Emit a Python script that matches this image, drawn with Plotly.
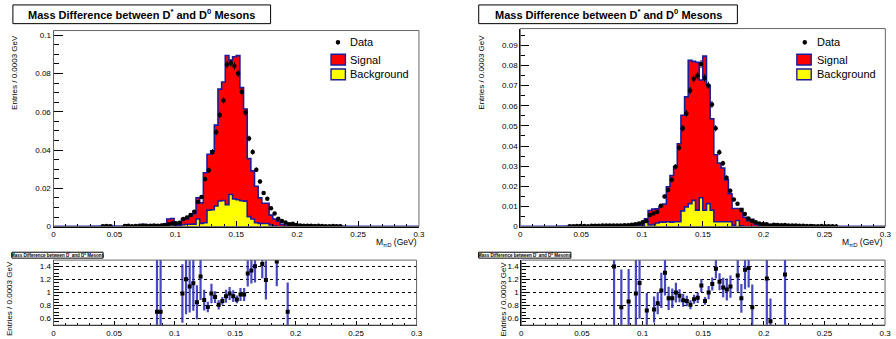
import numpy as np
import plotly.graph_objects as go

# ---------------------------------------------------------------- binning
N_BINS = 100
X_MIN, X_MAX = 0.0, 0.3
edges = np.linspace(X_MIN, X_MAX, N_BINS + 1)
centers = 0.5 * (edges[:-1] + edges[1:])

x_tick_vals = [0, 0.05, 0.1, 0.15, 0.2, 0.25, 0.3]
x_tick_text = ["0", "0.05", "0.1", "0.15", "0.2", "0.25", "0.3"]

# ---------------------------------------------------------------- sample 1 (left)
data_1 = [0] * 10 + [
    0, 0, 0, 0.0002, 0.0003, 0.0002, 0, 0, 0, 0.0003,
    0.0004, 0.0002, 0.0003, 0.0004, 0.0004, 0.0005, 0.0005, 0.0006, 0.0005, 0.0006,
    0.0008, 0.0012, 0.0017, 0.0017, 0.0020, 0.0040, 0.0048, 0.0060, 0.0077, 0.0129,
    0.0155, 0.0249, 0.0294, 0.0390, 0.0493, 0.0583, 0.0658, 0.0846, 0.0855, 0.0839,
    0.0800, 0.0704, 0.0596, 0.0460, 0.0390, 0.0297, 0.0235, 0.0175, 0.0146, 0.0096,
    0.0068, 0.0041, 0.0029, 0.0021, 0.0012, 0.0015, 0.0008, 0.0006, 0.0005, 0.0004,
    0.0004, 0.0003, 0.0004, 0.0003, 0.0002, 0.0002, 0.0003, 0.0002, 0.0002, 0,
] + [0] * 20
data_err_1 = [0] * 10 + [
    0, 0, 0, 0.0002, 0.0002, 0.0002, 0, 0, 0, 0.0002,
    0.0002, 0.0002, 0.0002, 0.0002, 0.0002, 0.0003, 0.0003, 0.0003, 0.0003, 0.0003,
    0.0003, 0.0004, 0.0004, 0.0004, 0.0004, 0.0006, 0.0006, 0.0007, 0.0008, 0.0010,
    0.0010, 0.0013, 0.0014, 0.0015, 0.0016, 0.0017, 0.0018, 0.0020, 0.0020, 0.0020,
    0.0019, 0.0018, 0.0017, 0.0015, 0.0014, 0.0012, 0.0011, 0.0009, 0.0008, 0.0007,
    0.0006, 0.0005, 0.0004, 0.0004, 0.0003, 0.0003, 0.0003, 0.0002, 0.0002, 0.0002,
    0.0002, 0.0002, 0.0002, 0.0002, 0.0002, 0.0002, 0.0002, 0.0002, 0.0002, 0,
] + [0] * 20
signal_1 = [0] * 10 + [
    0.0002, 0.0002, 0.0002, 0.0003, 0.0006, 0.0006, 0.0002, 0.0002, 0.0002, 0.0003,
    0.0003, 0.0003, 0.0004, 0.0004, 0.0012, 0.0004, 0.0005, 0.0005, 0.0007, 0.0008,
    0.0015, 0.0040, 0.0042, 0.0015, 0.0015, 0.0041, 0.0040, 0.0055, 0.0067, 0.0151,
    0.0124, 0.0281, 0.0378, 0.0396, 0.0530, 0.0718, 0.0755, 0.0894, 0.0868, 0.0887,
    0.0893, 0.0726, 0.0614, 0.0355, 0.0291, 0.0211, 0.0150, 0.0122, 0.0122, 0.0060,
    0.0040, 0.0028, 0.0012, 0.0008, 0.0017, 0.0012, 0.0004, 0.0003, 0.0008, 0.0003,
    0.0003, 0.0002, 0.0005, 0.0002, 0.0002, 0.0002, 0.0002, 0.0006, 0.0002, 0.0001,
] + [0] * 20
background_1 = [0] * 20 + [
    0, 0, 0, 0, 0, 0, 0, 0, 0, 0.0003,
    0.0010, 0.0012, 0.0008, 0.0004, 0.0005, 0.0010, 0.0012, 0.0012, 0.0013, 0.0040,
    0.0017, 0.0020, 0.0086, 0.0088, 0.0108, 0.0134, 0.0136, 0.0115, 0.0168, 0.0145,
    0.0140, 0.0135, 0.0133, 0.0052, 0.0040, 0.0020, 0.0017, 0.0016, 0.0016, 0.0008,
    0.0003, 0, 0, 0, 0, 0, 0, 0, 0, 0,
] + [0] * 30

ratio_bins_1 = [28, 29, 35, 36, 37, 38, 39, 40, 41, 42, 43, 44, 45, 46, 47, 48,
                49, 50, 51, 52, 53, 54, 55, 57, 58, 61, 64]
ratio_1 = [0.704, 0.704, 0.985, 1.207, 1.094, 1.143, 0.852, 1.247, 0.886, 0.778,
           0.985, 0.931, 0.812, 0.872, 0.946, 0.985, 0.946, 0.896, 0.970, 0.970,
           1.296, 1.341, 1.405, 1.440, 1.193, 1.479, 0.704]
ratio_err_1 = [0.80, 0.80, 0.45, 0.54, 0.40, 0.42, 0.26, 0.36, 0.16, 0.08,
               0.15, 0.09, 0.07, 0.06, 0.10, 0.10, 0.09, 0.06, 0.10, 0.10,
               0.20, 0.20, 0.25, 0.22, 0.30, 0.38, 0.45]

# ---------------------------------------------------------------- sample 2 (right)
data_2 = [0] * 10 + [
    0, 0, 0, 0.0002, 0.0002, 0.0003, 0.0003, 0.0003, 0.0002, 0.0004,
    0.0004, 0.0004, 0.0005, 0.0005, 0.0005, 0.0005, 0.0006, 0.0005, 0.0007, 0.0007,
    0.0009, 0.0012, 0.0015, 0.0021, 0.0028, 0.0057, 0.0065, 0.0073, 0.0103, 0.0150,
    0.0182, 0.0232, 0.0297, 0.0391, 0.0488, 0.0562, 0.0676, 0.0734, 0.0749, 0.0807,
    0.0738, 0.0701, 0.0606, 0.0488, 0.0369, 0.0314, 0.0243, 0.0178, 0.0134, 0.0114,
    0.0082, 0.0062, 0.0040, 0.0028, 0.0021, 0.0016, 0.0013, 0.0012, 0.0005, 0.0009,
    0.0008, 0.0007, 0.0008, 0.0006, 0.0005, 0.0006, 0.0004, 0.0004, 0.0003, 0.0003,
    0.0002, 0.0002, 0.0003, 0.0002, 0.0002, 0.0002, 0.0001, 0, 0, 0,
] + [0] * 10
data_err_2 = [0] * 10 + [
    0, 0, 0, 0.0002, 0.0002, 0.0002, 0.0002, 0.0002, 0.0002, 0.0002,
    0.0002, 0.0002, 0.0003, 0.0003, 0.0003, 0.0003, 0.0003, 0.0003, 0.0003, 0.0003,
    0.0004, 0.0004, 0.0004, 0.0005, 0.0005, 0.0007, 0.0007, 0.0008, 0.0009, 0.0010,
    0.0011, 0.0012, 0.0013, 0.0015, 0.0016, 0.0017, 0.0018, 0.0019, 0.0019, 0.0020,
    0.0019, 0.0018, 0.0017, 0.0015, 0.0014, 0.0013, 0.0011, 0.0010, 0.0009, 0.0008,
    0.0007, 0.0006, 0.0005, 0.0004, 0.0004, 0.0003, 0.0003, 0.0003, 0.0002, 0.0002,
    0.0002, 0.0002, 0.0002, 0.0002, 0.0002, 0.0002, 0.0002, 0.0002, 0.0002, 0.0002,
    0.0002, 0.0002, 0.0002, 0.0002, 0.0002, 0.0002, 0.0001, 0, 0, 0,
] + [0] * 10
signal_2 = [0] * 10 + [
    0.0001, 0.0001, 0.0002, 0.0002, 0.0005, 0.0005, 0.0002, 0.0002, 0.0003, 0.0003,
    0.0003, 0.0003, 0.0004, 0.0004, 0.0008, 0.0004, 0.0004, 0.0006, 0.0006, 0.0008,
    0.0010, 0.0012, 0.0013, 0.0016, 0.0039, 0.0080, 0.0087, 0.0088, 0.0100, 0.0112,
    0.0198, 0.0254, 0.0297, 0.0411, 0.0553, 0.0644, 0.0825, 0.0820, 0.0815, 0.0728,
    0.0846, 0.0701, 0.0535, 0.0357, 0.0316, 0.0291, 0.0232, 0.0163, 0.0090, 0.0090,
    0.0090, 0.0046, 0.0029, 0.0036, 0.0012, 0.0008, 0.0006, 0.0010, 0.0009, 0.0012,
    0.0003, 0.0003, 0.0006, 0.0002, 0.0002, 0.0002, 0.0002, 0.0002, 0.0002, 0.0001,
] + [0] * 20
background_2 = [0] * 30 + [
    0.0003, 0.0004, 0.0005, 0.0006, 0.0028, 0.0008, 0.0010, 0.0018, 0.0022, 0.0022,
    0.0024, 0.0022, 0.0024, 0.0024, 0.0078, 0.0098, 0.0114, 0.0130, 0.0082, 0.0143,
    0.0082, 0.0114, 0.0082, 0.0024, 0.0024, 0.0024, 0.0024, 0.0024, 0.0006, 0.0030,
    0.0004, 0, 0, 0, 0, 0, 0, 0, 0, 0,
] + [0] * 30

ratio_bins_2 = [25, 27, 29, 31, 32, 34, 36, 37, 38, 39, 40, 41, 42, 43, 44, 45, 46, 47,
                48, 49, 50, 51, 52, 53, 54, 55, 56, 57, 59, 60, 61, 62, 63, 67, 68, 72]
ratio_2 = [1.402, 0.774, 0.863, 0.985, 1.147, 0.725, 0.740, 0.838, 1.034, 1.304,
           0.912, 0.912, 1.000, 0.951, 0.882, 0.872, 0.813, 0.897, 0.921, 1.108,
           0.872, 1.000, 1.133, 1.368, 1.167, 1.079, 1.049, 1.093, 1.265, 0.912,
           1.353, 1.378, 0.774, 1.216, 0.558, 1.280]
ratio_err_2 = [0.90, 0.58, 0.50, 0.60, 0.55, 0.27, 0.20, 0.17, 0.27, 0.35,
               0.18, 0.15, 0.15, 0.10, 0.10, 0.08, 0.07, 0.07, 0.08, 0.10,
               0.06, 0.10, 0.10, 0.15, 0.13, 0.15, 0.17, 0.17, 0.25, 0.22,
               0.30, 0.30, 0.35, 0.90, 0.35, 0.90]

# ---------------------------------------------------------------- style
TITLE = "Mass Difference between D<sup>*</sup> and D<sup>0</sup> Mesons"
Y_TITLE = "Entries / 0.0003 GeV"
X_TITLE = "M<sub>πD</sub> (GeV)"
FONT = "Liberation Sans, Arial, Helvetica, sans-serif"
OUTLINE = "#1c1c9a"
RED = "#ff0000"
YELLOW = "#ffff00"
ERR_BLUE = "rgba(40,40,185,0.85)"

W, H = 896, 339


def px(x):
    return x / W


def py(y):
    return 1 - y / H


def step_trace(vals, fill, xa, ya):
    y = list(vals) + [vals[-1]]
    return go.Scatter(x=edges, y=y, mode="lines",
                      line=dict(shape="hv", color=OUTLINE, width=1.6),
                      fill="tozeroy", fillcolor=fill,
                      xaxis=xa, yaxis=ya, showlegend=False, hoverinfo="skip")


def data_trace(vals, errs, xa, ya):
    v = np.asarray(vals, dtype=float)
    e = np.asarray(errs, dtype=float)
    keep = v > 0
    return go.Scatter(x=centers[keep], y=v[keep], mode="markers",
                      marker=dict(color="black", size=4.5),
                      error_y=dict(type="data", array=e[keep], color="black",
                                   thickness=1, width=0),
                      xaxis=xa, yaxis=ya, showlegend=False, hoverinfo="skip")


def ratio_trace(bins, vals, errs, xa, ya):
    return go.Scatter(x=centers[bins], y=vals, mode="markers",
                      marker=dict(color="black", size=4, symbol="square"),
                      error_y=dict(type="data", array=errs, color=ERR_BLUE,
                                   thickness=2.2, width=0),
                      xaxis=xa, yaxis=ya, showlegend=False, hoverinfo="skip")


fig = go.Figure()
fig.add_trace(step_trace(signal_1, RED, "x", "y"))
fig.add_trace(step_trace(background_1, YELLOW, "x", "y"))
fig.add_trace(data_trace(data_1, data_err_1, "x", "y"))
fig.add_trace(step_trace(signal_2, RED, "x2", "y2"))
fig.add_trace(step_trace(background_2, YELLOW, "x2", "y2"))
fig.add_trace(data_trace(data_2, data_err_2, "x2", "y2"))
fig.add_trace(ratio_trace(ratio_bins_1, ratio_1, ratio_err_1, "x3", "y3"))
fig.add_trace(ratio_trace(ratio_bins_2, ratio_2, ratio_err_2, "x4", "y4"))

tick_font = dict(family=FONT, size=8, color="black")


def x_axis(dom, anchor, ticklen, minorlen, font_size):
    return dict(domain=dom, anchor=anchor, range=[X_MIN, X_MAX],
                tickvals=x_tick_vals, ticktext=x_tick_text,
                ticks="inside", ticklen=ticklen, tickcolor="black",
                minor=dict(ticks="inside", ticklen=minorlen, dtick=0.01,
                           tick0=0, tickcolor="black"),
                showline=True, linecolor="black", linewidth=1,
                showgrid=False, zeroline=False,
                tickfont=dict(family=FONT, size=font_size, color="black"))


def y_main(dom, anchor, top, dtick):
    return dict(domain=dom, anchor=anchor, range=[0, top], dtick=dtick, tick0=0,
                ticks="inside", ticklen=9, tickcolor="black",
                minor=dict(ticks="inside", ticklen=5, dtick=0.005, tick0=0,
                           tickcolor="black"),
                showline=True, linecolor="black", linewidth=1.2,
                showgrid=False, zeroline=False, tickfont=tick_font)


def y_ratio(dom, anchor):
    return dict(domain=dom, anchor=anchor, range=[0.5, 1.5], dtick=0.2, tick0=0,
                ticks="inside", ticklen=9, tickcolor="black",
                minor=dict(ticks="inside", ticklen=5, dtick=0.05, tick0=0,
                           tickcolor="black"),
                showline=True, linecolor="black", linewidth=1.2,
                showgrid=True, gridcolor="black", griddash="dot", gridwidth=1,
                zeroline=False, tickfont=tick_font)


main_y_1 = [py(230), py(31)]
main_y_2 = [py(230), py(29)]
ratio_y = [py(330), py(264)]

fig.update_layout(
    width=W, height=H, margin=dict(l=0, r=0, t=0, b=0),
    paper_bgcolor="white", plot_bgcolor="white",
    font=dict(family=FONT, color="black"),
    xaxis=x_axis([px(52), px(420.7)], "y", 6, 3, 8),
    yaxis=y_main(main_y_1, "x", 0.1024, 0.02),
    xaxis2=x_axis([px(523), px(891.3)], "y2", 6, 3, 8),
    yaxis2=y_main(main_y_2, "x2", 0.0983, 0.01),
    xaxis3=x_axis([px(52), px(418.3)], "y3", 4, 2, 8),
    yaxis3=y_ratio(ratio_y, "x3"),
    xaxis4=x_axis([px(524), px(891)], "y4", 4, 2, 8),
    yaxis4=y_ratio(ratio_y, "x4"),
)

shapes = []
annotations = []

# frames around each plotting area
for xa, ya in [("x", "y"), ("x2", "y2"), ("x3", "y3"), ("x4", "y4")]:
    shapes.append(dict(type="rect", xref=f"{xa} domain", yref=f"{ya} domain",
                       x0=0, x1=1, y0=0, y1=1, line=dict(color="#666666", width=1),
                       layer="above"))

# title boxes of the main pads
for (x0, x1) in [(11, 271), (481, 742)]:
    shapes.append(dict(type="rect", xref="paper", yref="paper",
                       x0=px(x0), x1=px(x1), y0=py(24), y1=py(5),
                       fillcolor="white", line=dict(color="black", width=1)))
    annotations.append(dict(text=f"<b>{TITLE}</b>", xref="paper", yref="paper",
                            x=px((x0 + x1) / 2), y=py(14.5), xanchor="center",
                            yanchor="middle", showarrow=False,
                            font=dict(family=FONT, size=11, color="black")))

# tiny title boxes of the ratio pads
for (x0, x1) in [(10, 102), (481, 574)]:
    shapes.append(dict(type="rect", xref="paper", yref="paper",
                       x0=px(x0), x1=px(x1), y0=py(262), y1=py(256),
                       fillcolor="white", line=dict(color="black", width=1)))
    annotations.append(dict(text=f"<b>{TITLE}</b>", xref="paper", yref="paper",
                            x=px((x0 + x1) / 2), y=py(259), xanchor="center",
                            yanchor="middle", showarrow=False,
                            font=dict(family=FONT, size=4.5, color="black")))

# y-axis titles
for (xc, ytop) in [(12, 33), (483, 33), (7.5, 263), (506.5, 263)]:
    annotations.append(dict(text=Y_TITLE, xref="paper", yref="paper",
                            x=px(xc), y=py(ytop), xanchor="center", yanchor="top",
                            textangle=-90, showarrow=False,
                            font=dict(family=FONT, size=8, color="black")))

# x-axis titles of the main pads
for xr in [421, 891]:
    annotations.append(dict(text=X_TITLE, xref="paper", yref="paper",
                            x=px(xr), y=py(238.5), xanchor="right", yanchor="top",
                            showarrow=False,
                            font=dict(family=FONT, size=8.5, color="black")))

# legends
for (mx, sx0, tx) in [(339, 332, 349), (810, 802, 820)]:
    shapes.append(dict(type="circle", xref="paper", yref="paper",
                       x0=px(mx - 2.3), x1=px(mx + 2.3), y0=py(43 + 2.3), y1=py(43 - 2.3),
                       fillcolor="black", line=dict(color="black", width=0)))
    for (fill, yt, yb) in [(RED, 55, 66), (YELLOW, 70, 81)]:
        shapes.append(dict(type="rect", xref="paper", yref="paper",
                           x0=px(sx0), x1=px(sx0 + 14.5), y0=py(yb), y1=py(yt),
                           fillcolor=fill, line=dict(color=OUTLINE, width=1.4)))
    for (label, yc) in [("Data", 43), ("Signal", 60.5), ("Background", 75.5)]:
        annotations.append(dict(text=label, xref="paper", yref="paper",
                                x=px(tx), y=py(yc), xanchor="left", yanchor="middle",
                                showarrow=False,
                                font=dict(family=FONT, size=11, color="black")))

fig.update_layout(shapes=shapes, annotations=annotations)

fig.write_html("out.html", config={"displayModeBar": False})
